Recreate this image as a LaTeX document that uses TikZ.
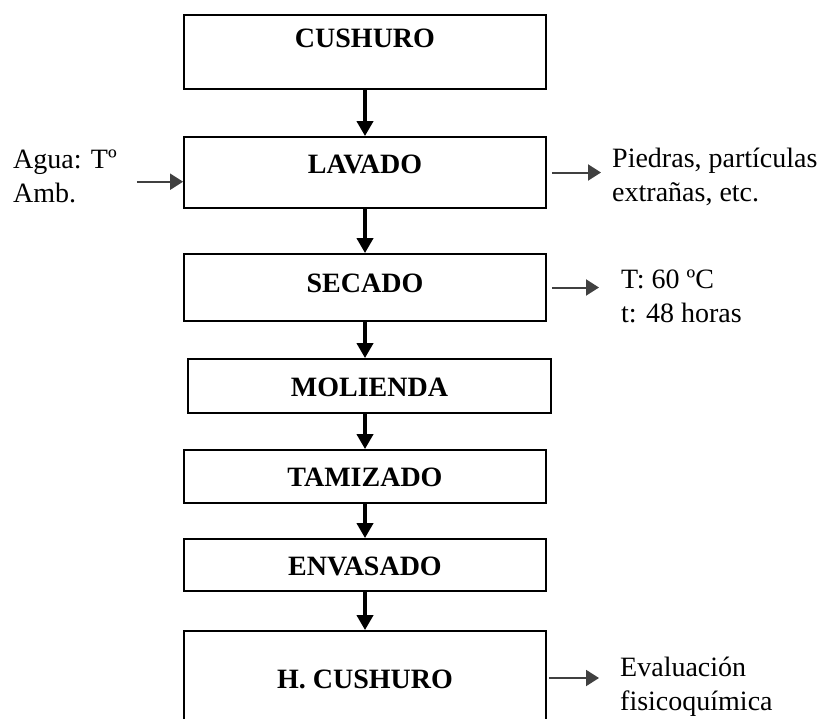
\documentclass[tikz,border=0pt]{standalone}
\usepackage{fontspec}
\setmainfont{Liberation Serif}
\usepackage{tikz}
\usetikzlibrary{arrows.meta}
\definecolor{gris}{RGB}{64,64,64}

\begin{document}
\begin{tikzpicture}[x=1pt, y=-1pt, font=\fontsize{28}{34}\selectfont]
    \tikzstyle{etapa}=[draw, rectangle, line width=1.8pt, inner sep=0pt, minimum width=362pt,
      font=\fontsize{28}{34}\selectfont\bfseries, text height=20pt, text depth=0pt]
    \tikzstyle{nota}=[anchor=north west, align=left, inner sep=0pt]
    \tikzstyle{flujo}=[line width=4pt, -{Triangle[length=15pt,width=16pt]}]
    \tikzstyle{lado}=[draw=gris, line width=2pt, -{Triangle[length=13pt,width=16pt]}]
    \useasboundingbox (0,0) rectangle (834,718);
    % etapas del proceso
    \node[etapa, minimum height=74pt, text depth=30pt] (cushuro) at (365,52) {CUSHURO};
    \node[etapa, minimum height=71pt, text depth=19pt] (lavado) at (365,172.5) {LAVADO};
    \node[etapa, minimum height=67pt, text depth=11pt] (secado) at (365,287.5) {SECADO};
    \node[etapa, minimum height=54pt, minimum width=363pt] (molienda) at (369.5,386) {MOLIENDA};
    \node[etapa, minimum height=53pt] (tamizado) at (365,476.5) {TAMIZADO};
    \node[etapa, minimum height=52pt] (envasado) at (365,565) {ENVASADO};
    \node[etapa, minimum height=94pt] (hcushuro) at (365,678) {H. CUSHURO};
    % entradas y salidas
    \node[nota] (agua) at (13,150) {Agua: Tº\\Amb.};
    \node[nota] (piedras) at (612,148) {Piedras, partículas\\extrañas, etc.};
    \node[nota] (temp) at (621,270) {T: 60 ºC\\t: 48 horas};
    \node[nota] (evaluacion) at (620,657) {Evaluación\\fisicoquímica};
    % flechas
    \draw[flujo] (cushuro.south) -- (lavado.north);
    \draw[flujo] (lavado.south) -- (secado.north);
    \draw[flujo] (secado.south) -- (secado.south |- molienda.north);
    \draw[flujo] (tamizado.north |- molienda.south) -- (tamizado.north);
    \draw[flujo] (tamizado.south) -- (envasado.north);
    \draw[flujo] (envasado.south) -- (hcushuro.north);
    \draw[lado] ([xshift=20pt,yshift=-5pt]agua.east) -- ([yshift=-5pt]agua.east -| lavado.west);
    \draw[lado, shorten <=5pt, shorten >=11pt] (lavado.east) -- (lavado.east -| piedras.west);
    \draw[lado, shorten <=5pt, shorten >=22pt] (secado.east) -- (secado.east -| temp.west);
    \draw[lado, shorten <=2pt, shorten >=21pt] (hcushuro.east) -- (hcushuro.east -| evaluacion.west);
\end{tikzpicture}
\end{document}
